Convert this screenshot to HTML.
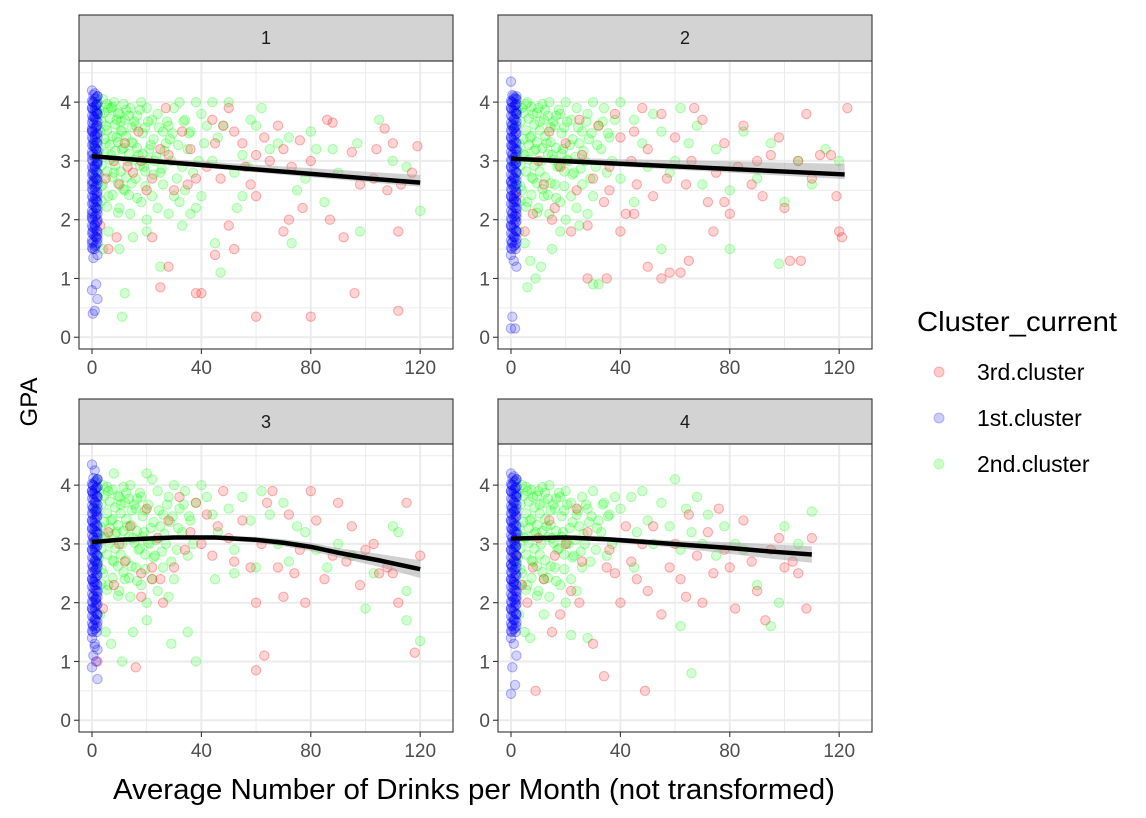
<!DOCTYPE html>
<html><head><meta charset="utf-8">
<style>
body{margin:0;background:#fff;}
svg{display:block;font-family:"Liberation Sans",Arial,sans-serif;}
</style></head>
<body>
<svg id="chart" width="1146" height="818" viewBox="0 0 1146 818" xmlns="http://www.w3.org/2000/svg">
<rect width="1146" height="818" fill="#fff"/>
<g id="panels"></g>
<text x="37" y="402" font-size="24" fill="#000" text-anchor="middle" transform="rotate(-90 37 402)">GPA</text>
<text x="474" y="799" font-size="29" fill="#000" text-anchor="middle" textLength="722" lengthAdjust="spacingAndGlyphs">Average Number of Drinks per Month (not transformed)</text>
<g>
<text x="917" y="331" font-size="28" fill="#000" textLength="200" lengthAdjust="spacingAndGlyphs">Cluster_current</text>
<g><circle cx="939" cy="372" r="5" fill="rgba(255,0,0,0.2)" stroke="rgba(255,0,0,0.25)"/><text x="977" y="380" font-size="23" fill="#000">3rd.cluster</text></g>
<g><circle cx="939" cy="418" r="5" fill="rgba(0,0,255,0.2)" stroke="rgba(0,0,255,0.25)"/><text x="977" y="426" font-size="23" fill="#000">1st.cluster</text></g>
<g><circle cx="939" cy="464" r="5" fill="rgba(0,255,0,0.2)" stroke="rgba(0,255,0,0.25)"/><text x="977" y="472" font-size="23" fill="#000">2nd.cluster</text></g>
</g>
</svg>
<script>
const panelLabels = ["1","2","3","4"];
const xTicks = [0,40,80,120];
const yTicks = [0,1,2,3,4];
const blueY1 = [4.2,4.15,4.1,4.0,3.95,3.9,3.8,3.75,3.7,3.6,3.5,3.45,3.4,3.3,3.2,3.1,3.0,2.9,2.8,2.7,2.6,2.5,2.4,2.3,2.2,2.1,2.0,1.9,1.8,1.7,1.6,1.5,1.4,1.35,0.9,0.8,0.65,0.45,0.4,3.85,3.55,3.25,2.95,2.65,2.35,2.05,1.75];
const blueY2 = [4.35,4.1,4.05,4.0,3.95,3.9,3.8,3.7,3.6,3.5,3.4,3.3,3.2,3.1,3.0,2.9,2.8,2.7,2.6,2.5,2.4,2.3,2.2,2.1,2.0,1.9,1.8,1.7,1.6,1.5,1.4,1.3,1.2,0.35,0.15,0.15,3.85,3.55,3.25,2.95,2.65,2.35,2.05];
const blueY3 = [4.35,4.25,4.1,4.0,3.95,3.9,3.8,3.7,3.6,3.5,3.4,3.3,3.2,3.1,3.0,2.9,2.8,2.7,2.6,2.5,2.4,2.3,2.2,2.1,2.0,1.9,1.8,1.7,1.6,1.5,1.4,1.3,1.2,1.1,1.0,0.9,0.7,1.25,3.85,3.55,3.25,2.95,2.65,2.35,2.05];
const blueY4 = [4.2,4.15,4.1,4.0,3.95,3.9,3.8,3.7,3.6,3.5,3.4,3.3,3.2,3.1,3.0,2.9,2.8,2.7,2.6,2.5,2.4,2.3,2.2,2.1,2.0,1.9,1.8,1.7,1.6,1.5,1.4,1.3,1.1,0.9,0.6,0.45,3.85,3.55,3.25,2.95,2.65,2.35,2.05];
const blueCore = [4.12,4.07,4.02,3.97,3.92,3.87,3.82,3.77,3.72,3.67,3.62,3.57,3.52,3.47,3.42,3.37,3.32,3.27,3.22,3.17,3.12,3.07,3.02,2.97,2.92,2.87,2.82,2.77,2.72,2.67,2.62,2.57,2.52,2.47,2.42,2.37,2.32,2.27,2.22,2.17,2.12,2.07,2.02,1.97,1.92,1.87,1.82,1.77,1.72,1.67,1.62,1.57,1.52];
const blueX = [0,1,2,0.5,1.5,0,2,1,0.3,1.7];
const greenCore = [[2,3.9],[3,3.7],[4,3.85],[5,3.55],[6,3.75],[7,3.45],[8,3.65],[9,3.35],[10,3.55],[11,3.25],[12,3.45],[13,3.15],[14,3.35],[15,3.05],[16,3.25],[17,2.95],[18,3.15],[19,2.85],[20,3.05],[3,2.95],[4,3.15],[5,2.85],[6,3.05],[7,2.75],[8,2.95],[9,2.65],[10,2.85],[11,2.55],[12,2.75],[13,2.45],[14,2.65],[3,2.35],[5,2.25],[7,2.45],[9,2.15],[4,3.4],[6,3.3],[8,3.2],[10,3.7],[12,3.9],[14,3.6],[16,3.8],[18,3.5],[20,3.7],[22,3.4],[24,3.6],[26,3.2],[28,3.4],[2,3.2],[3,2.6],[2,2.8],[5,4.0],[7,3.95],[9,3.85],[11,4.0],[13,3.8],[15,3.7],[17,3.9],[19,3.6],[21,3.3],[23,3.1],[25,2.9],[27,3.7],[29,3.5],[31,3.3],[33,3.7],[35,3.5],[16,2.4],[19,2.6],[22,2.8]];
const red1 = [[60,0.35],[80,0.35],[112,0.45],[96,0.75],[40,0.75],[38,0.75],[25,0.85],[45,1.4],[52,1.5],[50,1.9],[60,2.4],[72,2.0],[70,1.8],[77,2.2],[87,2.0],[92,1.7],[98,2.6],[103,2.7],[108,2.5],[113,2.6],[117,2.8],[119,3.25],[110,3.3],[107,3.55],[104,3.2],[95,3.15],[88,3.65],[86,3.7],[76,3.35],[70,3.2],[65,3.0],[60,3.1],[55,3.3],[52,3.5],[48,3.6],[45,3.3],[42,2.9],[38,2.7],[35,2.6],[30,2.5],[28,3.1],[25,3.2],[22,2.7],[20,2.5],[18,3.0],[15,2.8],[12,3.3],[10,2.6],[8,3.0],[5,2.7],[28,1.2],[22,1.7],[56,2.9],[63,3.4],[68,3.6],[80,3.0],[33,3.5],[27,3.9],[44,3.7],[58,2.6],[6,1.5],[9,1.7],[13,2.9],[17,3.5],[3,1.9],[47,2.7],[36,3.2],[73,2.9],[112,1.8],[50,3.9]];
const green1 = [[2,4.0],[4,4.05],[6,3.9],[8,4.0],[10,3.8],[12,3.7],[14,3.9],[16,3.6],[18,4.0],[20,3.9],[22,3.7],[24,3.8],[26,3.5],[28,3.6],[30,3.9],[32,4.0],[34,3.7],[36,3.5],[38,4.0],[40,3.8],[42,3.6],[44,4.0],[46,3.4],[48,3.6],[50,4.0],[3,3.5],[5,3.3],[7,3.1],[9,3.4],[11,3.2],[13,3.0],[15,3.3],[17,3.1],[19,2.9],[21,3.2],[23,3.0],[25,2.8],[27,3.3],[29,3.0],[31,2.7],[33,2.9],[35,3.2],[37,2.8],[39,3.0],[41,3.3],[4,2.6],[6,2.4],[8,2.8],[10,2.2],[12,2.5],[14,2.1],[16,2.7],[18,2.3],[20,2.0],[22,2.4],[24,2.2],[26,2.6],[28,2.1],[30,2.4],[32,2.3],[34,2.5],[36,2.1],[38,2.2],[40,2.4],[3,3.8],[5,3.6],[7,3.9],[9,3.7],[11,3.5],[2,2.2],[4,1.5],[6,1.8],[10,1.5],[15,1.7],[20,1.8],[11,0.35],[12,0.75],[25,1.2],[33,1.9],[45,1.6],[47,1.1],[55,3.1],[58,3.7],[62,3.9],[65,3.2],[52,2.8],[55,2.4],[60,3.6],[72,3.4],[78,2.7],[80,3.5],[82,3.2],[88,3.2],[90,2.8],[98,1.8],[105,3.7],[110,3.0],[115,2.9],[120,2.15],[97,3.3],[85,2.3],[73,1.6],[68,3.3],[75,2.5],[44,3.0],[53,2.2],[57,2.9],[1,3.3],[1,2.7],[2,3.0]];
const red2 = [[2,2.4],[5,1.8],[8,2.1],[10,3.0],[12,2.6],[14,3.5],[16,2.2],[18,2.9],[20,3.3],[22,1.8],[24,2.5],[26,3.1],[28,1.9],[30,2.7],[32,3.6],[34,2.3],[36,2.9],[38,3.8],[40,3.4],[42,2.1],[44,3.0],[46,2.6],[48,3.9],[50,3.2],[52,2.4],[55,3.8],[57,2.7],[60,3.4],[62,1.1],[65,1.3],[58,1.1],[55,1.0],[50,1.2],[45,2.1],[35,1.0],[28,1.0],[64,2.6],[66,3.0],[70,3.7],[72,2.3],[75,2.8],[78,3.3],[80,2.1],[83,2.9],[85,3.6],[88,2.6],[90,3.0],[92,2.4],[95,3.1],[98,3.4],[100,2.2],[102,1.3],[105,3.0],[108,3.8],[110,2.7],[113,3.1],[117,3.1],[119,2.4],[120,1.8],[121,1.7],[123,3.9],[106,1.3],[40,1.8],[36,2.5],[45,3.5],[67,3.9],[15,2.0],[25,3.7],[74,1.8],[78,2.3]];
const green2 = [[2,4.05],[4,3.9],[6,4.0],[8,3.8],[10,3.9],[12,3.7],[14,4.0],[16,3.6],[18,3.8],[20,4.0],[22,3.7],[24,3.9],[26,3.5],[28,3.8],[30,4.0],[32,3.6],[34,3.9],[36,3.4],[38,3.7],[40,4.0],[3,3.3],[5,3.1],[7,3.4],[9,3.2],[11,3.0],[13,3.3],[15,3.1],[17,2.9],[19,3.2],[21,3.0],[23,2.8],[25,3.3],[27,3.0],[29,2.7],[31,2.9],[33,3.2],[35,2.8],[37,3.0],[4,2.5],[6,2.3],[8,2.7],[10,2.2],[12,2.4],[14,2.1],[16,2.6],[18,2.3],[20,2.0],[22,2.4],[24,2.2],[26,2.6],[28,2.1],[30,2.4],[3,1.8],[5,1.6],[7,1.3],[9,1.0],[11,1.2],[15,1.5],[18,1.8],[25,1.9],[30,0.9],[32,0.9],[6,0.85],[45,3.7],[48,3.3],[50,2.9],[52,3.8],[55,3.5],[58,2.8],[60,3.0],[62,3.9],[65,3.3],[68,3.6],[70,2.6],[75,3.2],[80,2.5],[85,3.5],[90,2.7],[95,3.3],[100,2.3],[105,3.0],[110,2.6],[115,3.2],[120,3.0],[98,1.25],[80,1.5],[55,1.5],[45,2.3],[40,2.7],[1,3.0],[2,2.6],[1,3.6]];
const red3 = [[2,1.0],[4,1.9],[8,2.3],[10,3.0],[12,2.7],[14,3.3],[16,0.9],[18,2.5],[20,3.6],[22,2.4],[24,3.1],[26,2.0],[28,3.4],[30,2.6],[32,3.8],[34,2.9],[36,3.2],[38,3.7],[40,3.0],[42,3.5],[44,2.8],[46,3.3],[48,3.9],[50,3.1],[52,2.7],[55,3.4],[58,2.6],[60,2.0],[60,0.85],[63,1.1],[62,3.0],[64,3.7],[66,3.9],[68,2.6],[70,2.1],[72,3.5],[74,2.5],[76,2.9],[78,2.0],[80,3.9],[82,3.4],[85,2.4],[88,2.8],[90,3.7],[93,2.7],[95,3.3],[98,2.3],[100,2.9],[103,3.0],[105,2.5],[108,2.6],[110,2.5],[112,2.0],[115,3.7],[118,1.15],[120,2.8],[18,2.1],[22,2.6],[6,3.2],[25,2.4]];
const green3 = [[2,4.1],[4,4.0],[6,3.9],[8,4.2],[10,3.8],[12,3.7],[14,4.0],[16,3.6],[18,3.8],[20,4.2],[22,4.1],[24,3.9],[26,3.5],[28,3.8],[30,4.0],[32,3.6],[34,3.9],[36,3.4],[38,3.7],[40,4.0],[42,3.8],[44,3.5],[3,3.3],[5,3.1],[7,3.4],[9,3.2],[11,3.0],[13,3.3],[15,3.1],[17,2.9],[19,3.2],[21,3.0],[23,2.8],[25,3.3],[27,3.0],[29,2.7],[31,2.9],[33,3.2],[35,2.8],[37,3.0],[4,2.5],[6,2.3],[8,2.7],[10,2.2],[12,2.4],[14,2.1],[16,2.6],[18,2.3],[20,2.0],[22,2.4],[24,2.2],[26,2.6],[28,2.1],[30,2.4],[3,1.8],[5,1.5],[7,1.3],[11,1.0],[15,1.5],[20,1.7],[29,1.3],[35,1.5],[38,1.0],[46,3.2],[50,3.6],[52,2.9],[55,3.8],[58,3.4],[60,2.6],[62,3.9],[65,3.5],[68,3.0],[70,3.7],[72,2.7],[75,3.3],[78,3.2],[82,2.9],[86,2.6],[90,3.0],[95,2.8],[100,1.9],[103,2.5],[110,3.3],[112,3.2],[115,2.2],[120,1.35],[115,1.7],[45,2.4],[52,2.5],[1,3.0],[2,2.7],[1,3.6]];
const red4 = [[2,2.8],[4,2.3],[6,2.0],[8,2.6],[9,0.5],[10,3.1],[12,2.4],[14,3.4],[16,2.8],[18,1.8],[20,3.0],[22,2.2],[24,3.6],[26,2.7],[28,3.2],[30,1.3],[34,0.75],[36,2.9],[38,2.5],[40,2.0],[42,3.3],[44,2.7],[46,2.4],[48,3.0],[49,0.5],[50,2.2],[52,3.3],[55,1.8],[58,2.6],[60,3.0],[62,2.4],[64,2.1],[65,3.5],[68,2.8],[70,2.0],[72,3.2],[74,2.5],[76,3.6],[78,2.9],[80,2.6],[82,1.9],[85,3.4],[88,2.7],[90,2.2],[93,1.7],[95,2.9],[98,3.1],[100,2.6],[103,2.7],[105,2.5],[108,1.9],[110,3.1],[35,2.6],[25,2.0],[15,1.5]];
const green4 = [[2,4.05],[4,4.0],[6,3.9],[8,3.8],[10,3.9],[12,3.7],[14,4.0],[16,3.6],[18,3.8],[20,3.9],[22,3.7],[24,3.5],[26,3.8],[28,3.6],[30,3.9],[32,3.4],[34,3.7],[36,3.5],[38,3.8],[40,3.6],[3,3.3],[5,3.1],[7,3.4],[9,3.2],[11,3.0],[13,3.3],[15,3.1],[17,2.9],[19,3.2],[21,3.0],[23,2.8],[25,3.3],[27,3.0],[29,2.7],[31,2.9],[33,3.2],[35,2.8],[37,3.0],[4,2.5],[6,2.3],[8,2.7],[10,2.2],[12,2.4],[14,2.1],[16,2.6],[18,2.3],[20,2.0],[22,2.4],[24,2.2],[26,2.6],[3,1.8],[5,1.5],[7,1.4],[12,1.8],[22,1.45],[28,1.4],[44,3.8],[46,3.2],[48,3.9],[50,3.4],[52,3.0],[55,3.7],[58,3.3],[60,4.1],[62,2.9],[64,3.6],[66,3.2],[68,3.8],[70,3.0],[72,3.5],[75,2.8],[78,3.3],[82,3.0],[85,2.9],[90,2.3],[95,1.6],[98,2.0],[100,3.3],[105,3.0],[110,3.55],[62,1.6],[66,0.8],[45,2.6],[1,3.0],[2,2.7],[1,3.6]];
const smoothX1 = [0,120], smoothY1 = [3.08,2.63], seLo1=[0.03,0.07], seHi1=[0.03,0.13];
const smoothX2 = [0,122], smoothY2 = [3.04,2.77], seLo2=[0.03,0.08], seHi2=[0.03,0.18];
const smoothX3 = [0,10,20,30,45,60,70,80,90,105,120], smoothY3 = [3.03,3.07,3.09,3.11,3.11,3.07,3.02,2.95,2.85,2.72,2.57], seLo3=[0.04,0.03,0.03,0.03,0.04,0.05,0.06,0.07,0.08,0.11,0.15], seHi3=seLo3;
const smoothX4 = [0,10,20,35,50,65,80,95,110], smoothY4 = [3.09,3.1,3.11,3.08,3.03,2.98,2.93,2.87,2.82], seLo4=[0.04,0.03,0.03,0.04,0.05,0.07,0.1,0.12,0.14], seHi4=seLo4;

const NS="http://www.w3.org/2000/svg";
const root=document.getElementById('panels');
function mk(tag,attrs,parent){const e=document.createElementNS(NS,tag);for(const k in attrs)e.setAttribute(k,attrs[k]);parent.appendChild(e);return e;}
const panels=[
 {x0:79,y0:61,strip:15,blue:blueY1,red:red1,green:green1,sx:smoothX1,sy:smoothY1,lo:seLo1,hi:seHi1},
 {x0:498,y0:61,strip:15,blue:blueY2,red:red2,green:green2,sx:smoothX2,sy:smoothY2,lo:seLo2,hi:seHi2},
 {x0:79,y0:444,strip:399,blue:blueY3,red:red3,green:green3,sx:smoothX3,sy:smoothY3,lo:seLo3,hi:seHi3},
 {x0:498,y0:444,strip:399,blue:blueY4,red:red4,green:green4,sx:smoothX4,sy:smoothY4,lo:seLo4,hi:seHi4}];
const W=374,H=288,XMIN=-4.75,XMAX=132,YMIN=-0.2,YMAX=4.7;
panels.forEach((p,i)=>{
 const g=mk('g',{},root);
 
 
 const sx=v=>p.x0+(v-XMIN)/(XMAX-XMIN)*W;
 const sy=v=>p.y0+H-(v-YMIN)/(YMAX-YMIN)*H;
 const st=mk('rect',{x:p.x0,y:p.strip,width:W,height:p.y0-p.strip,fill:'#D3D3D3',stroke:'#333','stroke-width':1.1},g);
 
 
 const stt=mk('text',{x:p.x0+W/2,y:p.strip+29,'font-size':18,fill:'#1A1A1A','text-anchor':'middle'},g);
 stt.textContent=panelLabels[i];
 
 
 for(let v=20;v<=120;v+=40){mk('line',{x1:sx(v),x2:sx(v),y1:p.y0,y2:p.y0+H,stroke:'#EBEBEB','stroke-width':1},g);}
 for(let v=0.5;v<=4.5;v+=1){mk('line',{x1:p.x0,x2:p.x0+W,y1:sy(v),y2:sy(v),stroke:'#EBEBEB','stroke-width':1},g);}
 xTicks.forEach(v=>{mk('line',{x1:sx(v),x2:sx(v),y1:p.y0,y2:p.y0+H,stroke:'#EBEBEB','stroke-width':2},g);
  mk('line',{x1:sx(v),x2:sx(v),y1:p.y0+H,y2:p.y0+H+5,stroke:'#333','stroke-width':1.1},g);
  const t=mk('text',{x:sx(v),y:p.y0+H+25,'font-size':19,fill:'#4D4D4D','text-anchor':'middle'},g);t.textContent=v;
  
  });
 yTicks.forEach(v=>{mk('line',{x1:p.x0,x2:p.x0+W,y1:sy(v),y2:sy(v),stroke:'#EBEBEB','stroke-width':2},g);
  mk('line',{x1:p.x0-5,x2:p.x0,y1:sy(v),y2:sy(v),stroke:'#333','stroke-width':1.1},g);
  const t=mk('text',{x:p.x0-8,y:sy(v)+7,'font-size':19,fill:'#4D4D4D','text-anchor':'end'},g);t.textContent=v;
  
  });
 const pts=mk('g',{},g);
 
 
 const dot=(x,y,c)=>{const e=mk('circle',{cx:sx(x),cy:sy(y),r:4.7,fill:'rgba('+c+',0.17)',stroke:'rgba('+c+',0.3)','stroke-width':1},pts);
  
  };
 p.green.forEach(d=>dot(d[0],d[1],'0,255,0'));
 greenCore.forEach(d=>dot(d[0]+0.5,d[1]-0.03,'0,255,0'));
 p.red.forEach(d=>dot(d[0],d[1],'255,0,0'));
 p.blue.forEach((y,k)=>dot(blueX[k%blueX.length],y,'0,0,255'));
 blueCore.forEach((y,k)=>dot(blueX[(k+3)%blueX.length],y,'0,0,255'));
 blueCore.forEach((y,k)=>dot(blueX[(k+6)%blueX.length],y-0.02,'0,0,255'));
 let up=p.sx.map((x,k)=>sx(x)+','+sy(p.sy[k]+p.hi[k]));
 let dn=p.sx.map((x,k)=>sx(x)+','+sy(p.sy[k]-p.lo[k])).reverse();
 const band=mk('polygon',{points:up.concat(dn).join(' '),fill:'rgba(153,153,153,0.45)'},g);
 
 
 const ln=mk('polyline',{points:p.sx.map((x,k)=>sx(x)+','+sy(p.sy[k])).join(' '),fill:'none',stroke:'#000','stroke-width':4.5,'stroke-linejoin':'round'},g);
 
 
 mk('rect',{x:p.x0,y:p.y0,width:W,height:H,fill:'none',stroke:'#333','stroke-width':1.1},g);
});
</script>
</body></html>
